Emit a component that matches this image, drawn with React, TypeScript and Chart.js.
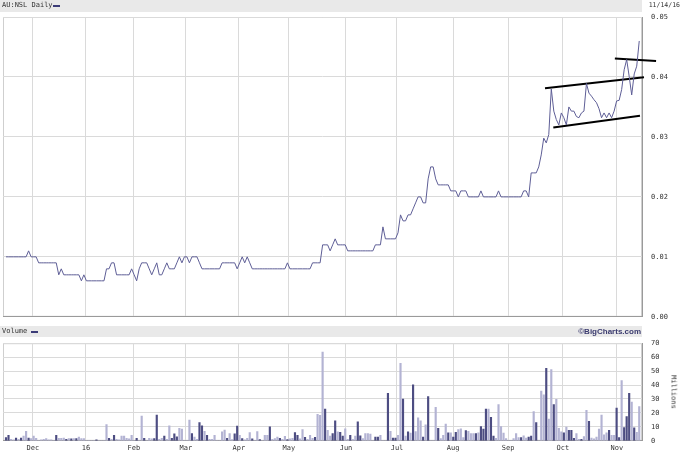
import React, { useEffect, useRef } from "react";
import { Chart, registerables } from "chart.js";
Chart.register(...registerables);

// ---- data ----
const monthTickPos = [10.7, 31.8, 50.9, 71.6, 92.7, 112.6, 135.3, 155.6, 177.9, 199.8, 221.6, 243.1];
const monthLabels = ["Dec", "16", "Feb", "Mar", "Apr", "May", "Jun", "Jul", "Aug", "Sep", "Oct", "Nov"];
const priceTicks = [0, 0.01, 0.02, 0.03, 0.04, 0.05];
const volumeTicks = [0, 10, 20, 30, 40, 50, 60, 70];

const closePrices = [
  .010, .010, .010, .010, .010, .010, .010, .010, .010, .011,
  .010, .010, .010, .009, .009, .009, .009, .009, .009, .009,
  .009, .007, .008, .007, .007, .007, .007, .007, .007, .007,
  .006, .007, .006, .006, .006, .006, .006, .006, .006, .006,
  .008, .008, .009, .009, .007, .007, .007, .007, .007, .007,
  .008, .007, .006, .008, .009, .009, .009, .008, .007, .008,
  .009, .007, .007, .008, .009, .008, .008, .008, .009, .010,
  .009, .010, .010, .009, .010, .010, .010, .009, .008, .008,
  .008, .008, .008, .008, .008, .008, .009, .009, .009, .009,
  .009, .009, .008, .009, .010, .009, .010, .009, .008, .008,
  .008, .008, .008, .008, .008, .008, .008, .008, .008, .008,
  .008, .008, .009, .008, .008, .008, .008, .008, .008, .008,
  .008, .008, .009, .009, .009, .009, .012, .012, .012, .011,
  .012, .013, .012, .012, .012, .012, .011, .011, .011, .011,
  .011, .011, .011, .011, .011, .011, .011, .012, .012, .012,
  .015, .013, .013, .013, .013, .013, .014, .017, .016, .016,
  .017, .017, .018, .019, .020, .020, .019, .019, .023, .025,
  .025, .023, .022, .022, .022, .022, .022, .021, .021, .021,
  .020, .021, .021, .021, .020, .020, .020, .020, .020, .021,
  .020, .020, .020, .020, .020, .020, .021, .020, .020, .020,
  .020, .020, .020, .020, .020, .020, .021, .021, .020, .024,
  .024, .024, .025, .027, .0298, .029, .0304, .038, .0343, .0329,
  .032, .034, .0332, .032, .035, .0343, .0343, .0334, .0332, .034,
  .0343, .0389, .0373, .0368, .0362, .0357, .0347, .0332, .034, .0332,
  .034, .0332, .0343, .036, .0361, .0379, .0412, .0429, .0401, .037,
  .0405, .0418, .046,
];

const volumeMillions = [
  2.3, 4, 1, 0.7, 2, 1, 2, 3.4, 6.8, 2,
  1.6, 3.4, 1.8, 0, 0.7, 1.1, 1.6, 0.7, 0.7, 0,
  4, 1.8, 1.8, 2, 1.1, 1.6, 1.4, 1.6, 1.6, 2.7,
  1.6, 1.6, 0, 0, 0, 0, 0.7, 0, 0, 0,
  11.6, 1.8, 1.1, 3.9, 1.1, 0.7, 3.4, 3.4, 1.8, 1.4,
  3.9, 0, 1.8, 0, 17.7, 1.8, 0, 1.8, 1.4, 1.6,
  18.4, 1.1, 1.8, 3.4, 1.1, 10.7, 1.8, 5, 2.9, 8.9,
  8.4, 0, 0, 14.8, 5.2, 2.7, 1.1, 13, 10.7, 6.8,
  4, 1.1, 1.1, 4, 0, 0, 6.4, 7.7, 1.8, 5.2,
  0.9, 5, 10.5, 3.9, 1.6, 0.7, 1.8, 5.9, 1.4, 0,
  6.6, 0.9, 0, 4, 4, 10, 1.1, 1.6, 2.7, 1.8,
  1.1, 3.2, 0.9, 1.4, 1.8, 5.9, 3.9, 1.4, 8, 2.5,
  1.1, 4, 1.8, 2.5, 18.9, 18.2, 63.6, 22.7, 7.5, 3.4,
  5.2, 14.3, 6.4, 6.1, 3.4, 8.6, 1.1, 4, 1.1, 3.4,
  13.6, 3.6, 1.6, 5.2, 5.2, 4.8, 0, 2.7, 2.7, 3.9,
  0, 0, 34, 6.8, 2, 2, 3.9, 55.5, 30, 3.4,
  6.4, 5.5, 40.2, 6.6, 16.4, 14.3, 2.7, 11.4, 31.8, 0,
  0, 24, 8.9, 1.6, 3.9, 12, 5.7, 5.7, 2.7, 6.1,
  8, 8.6, 2.3, 7.3, 6.8, 5.2, 5.2, 5.2, 5.7, 10.2,
  8.4, 22.7, 22.7, 16.8, 3.4, 1.8, 26, 10.2, 5.5, 1.6,
  0, 0, 1.6, 5.2, 2.3, 2.3, 3.6, 2, 2.7, 3.4,
  21, 13, 0, 35.7, 33, 52, 15.5, 51, 26, 29.8,
  8.9, 6.4, 5.7, 9.8, 7.5, 7.5, 1.8, 5.2, 1.1, 1.1,
  3, 21.8, 13.9, 2, 1.4, 2.7, 8.4, 18.4, 4.3, 5.7,
  7.5, 3.9, 3.9, 23.4, 2.3, 43.2, 9.5, 17.3, 34, 27.7,
  9.3, 6.1, 24.5,
];

// d = dark bar, l = light bar
const volumeShade = [
  "ddlldldlld", "llllllllll", "dllldldldl", "lllllldlll", "ldldllllll",
  "lldlldllld", "dlldlldddl", "lllldllddl", "dllllllldl", "lddldllldl",
  "ldllldllld", "lldllddlld", "llldllldll", "ddlddlldll", "ddlllllddl",
  "lldlddlldl", "dldllldldl", "lldllldldd", "llldllldld", "ddlddlllll",
  "llllldlldd", "ldllldlldl", "lldldddlld", "lldlllllll", "dllddldddl",
  "dll",
].join("").split("");

const trendUpper = [{ x: 214.5, y: 0.0381 }, { x: 253.9, y: 0.03995 }];
const trendLower = [{ x: 217.8, y: 0.03158 }, { x: 252.3, y: 0.03352 }];
const trendTop = [{ x: 242.3, y: 0.04308 }, { x: 258.7, y: 0.04268 }];

// ---- styling ----
const X_MIN = -1.19;
const X_MAX = 253.1;
const TICK_FONT = { family: "'DejaVu Sans Mono', monospace", size: 7 };
const GRID = "#dadada";
const BORDER = "#9a9a9a";
const LINE_COLOR = "#5e5e96";
const DARK_BAR = "#4d4d82";
const LIGHT_BAR = "#b3b3d3";

const plotBox = {
  id: "plotBox",
  beforeDraw(chart: any) {
    const { ctx, chartArea: a } = chart;
    ctx.save();
    ctx.strokeStyle = "#cfcfcf";
    ctx.lineWidth = 1;
    ctx.strokeRect(a.left + 0.5, a.top + 0.5, a.width - 1, a.height - 1);
    ctx.restore();
  },
};

const monthTicks = (s: any) => {
  s.ticks = monthTickPos.map((v) => ({ value: v }));
};

export default function App() {
  const topRef = useRef<HTMLCanvasElement>(null);
  const volRef = useRef<HTMLCanvasElement>(null);

  useEffect(() => {
    const priceChart = new Chart(topRef.current as HTMLCanvasElement, {
      type: "line",
      data: {
        datasets: [
          {
            data: closePrices.map((v, i) => ({ x: i, y: v })),
            borderColor: LINE_COLOR,
            borderWidth: 1,
            pointRadius: 0,
            tension: 0,
          },
          ...[trendUpper, trendLower, trendTop].map((t) => ({
            data: t,
            borderColor: "#000",
            borderWidth: 2,
            pointRadius: 0,
            clip: false as any,
          })),
        ],
      },
      options: {
        animation: false,
        responsive: false,
        maintainAspectRatio: false,
        layout: { padding: { left: 3, top: 17, right: 0, bottom: 12 } },
        plugins: { legend: { display: false }, tooltip: { enabled: false } },
        scales: {
          x: {
            type: "linear",
            min: X_MIN,
            max: X_MAX,
            afterBuildTicks: monthTicks,
            ticks: { display: false },
            grid: { color: GRID, drawTicks: false },
            border: { display: true, color: BORDER },
            afterFit: (s: any) => { s.height = 0; },
          },
          y: {
            position: "right",
            min: 0,
            max: 0.05,
            afterBuildTicks: (s: any) => { s.ticks = priceTicks.map((v) => ({ value: v })); },
            ticks: {
              padding: 9,
              color: "#333",
              font: TICK_FONT,
              callback: (v: any) => Number(v).toFixed(2),
            },
            grid: { color: GRID, drawTicks: false },
            border: { color: BORDER },
            afterFit: (s: any) => { s.width = 39; },
          },
        },
      } as any,
      plugins: [plotBox],
    });

    const volChart = new Chart(volRef.current as HTMLCanvasElement, {
      type: "bar",
      data: {
        datasets: [
          {
            data: volumeMillions.map((v, i) => ({ x: i, y: v })),
            backgroundColor: volumeShade.map((c) => (c === "d" ? DARK_BAR : LIGHT_BAR)),
            barThickness: 1.5,
            borderWidth: 0,
          },
        ],
      },
      options: {
        animation: false,
        responsive: false,
        maintainAspectRatio: false,
        layout: { padding: { left: 3, top: 11, right: 0, bottom: 0 } },
        plugins: { legend: { display: false }, tooltip: { enabled: false } },
        scales: {
          x: {
            type: "linear",
            min: X_MIN,
            max: X_MAX,
            offset: false,
            afterBuildTicks: monthTicks,
            ticks: {
              autoSkip: false,
              maxRotation: 0,
              padding: 3,
              color: "#333",
              font: TICK_FONT,
              callback: (_v: any, i: number) => monthLabels[i],
            },
            grid: { color: GRID, drawTicks: false, offset: false },
            border: { display: true, color: BORDER },
            afterFit: (s: any) => { s.height = 11; },
          },
          y: {
            position: "right",
            min: 0,
            max: 70,
            afterBuildTicks: (s: any) => { s.ticks = volumeTicks.map((v) => ({ value: v })); },
            ticks: { padding: 9, color: "#333", font: TICK_FONT },
            grid: { color: GRID, drawTicks: false },
            border: { color: BORDER },
            afterFit: (s: any) => { s.width = 39; },
          },
        },
      } as any,
      plugins: [plotBox],
    });

    return () => {
      priceChart.destroy();
      volChart.destroy();
    };
  }, []);

  const small: React.CSSProperties = {
    position: "absolute",
    fontFamily: "'DejaVu Sans Mono', monospace",
    fontSize: "7px",
    lineHeight: "9px",
    color: "#333",
    whiteSpace: "nowrap",
  };

  return (
    <div style={{ position: "fixed", left: 0, top: 0, width: 681, height: 454, background: "#fff", overflow: "hidden" }}>
      <div style={{ position: "absolute", left: 0, top: 0, width: 642, height: 12, background: "#e9e9e9" }} />
      <div style={{ position: "absolute", left: 0, top: 326, width: 642, height: 11, background: "#e9e9e9" }} />
      <canvas ref={topRef} width={681} height={330} style={{ position: "absolute", left: 0, top: 0, width: 681, height: 330 }} />
      <canvas ref={volRef} width={681} height={124} style={{ position: "absolute", left: 0, top: 330, width: 681, height: 124 }} />
      <div style={{ ...small, left: 2, top: 1 }}>AU:NSL Daily</div>
      <div style={{ position: "absolute", left: 53, top: 5, width: 7, height: 2, background: "#3c3c78" }} />
      <div style={{ ...small, fontSize: "6.5px", right: 1, top: 1 }}>11/14/16</div>
      <div style={{ ...small, left: 2, top: 327 }}>Volume</div>
      <div style={{ position: "absolute", left: 31, top: 331, width: 7, height: 2, background: "#3c3c78" }} />
      <div
        style={{
          position: "absolute",
          right: 681 - 641,
          top: 326,
          fontFamily: "'Liberation Sans', Arial, sans-serif",
          fontWeight: "bold",
          fontSize: "8px",
          lineHeight: "11px",
          color: "#3a3a6e",
          whiteSpace: "nowrap",
        }}
      >
        ©BigCharts.com
      </div>
      <div
        style={{
          ...small,
          left: 673,
          top: 392,
          transform: "translate(-50%, -50%) rotate(90deg)",
        }}
      >
        Millions
      </div>
    </div>
  );
}
